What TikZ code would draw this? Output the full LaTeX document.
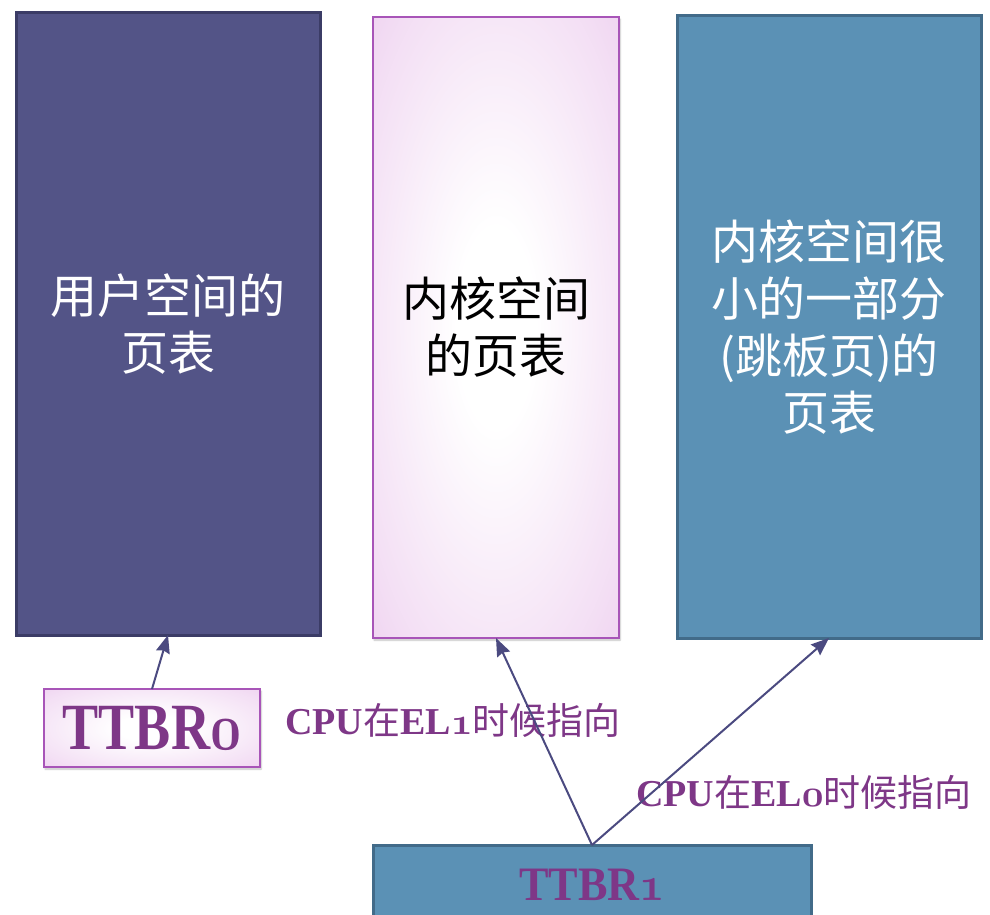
\documentclass[tikz,border=0pt]{standalone}
\usepackage{fontspec}
\setmainfont{Liberation Serif}
\newfontfamily\cjk{Noto Sans CJK SC}
\usetikzlibrary{arrows.meta,shadows.blur}
\DeclareFontFamily{OML}{osnum}{\skewchar\font'177}
\DeclareFontShape{OML}{osnum}{b}{it}{<->cmmib10}{}
\newcommand\osn[1]{{\usefont{OML}{osnum}{b}{it}#1}}
\definecolor{navyfill}{HTML}{535487}
\definecolor{navyline}{HTML}{3B3C66}
\definecolor{bluefill}{HTML}{5B91B5}
\definecolor{blueline}{HTML}{426B89}
\definecolor{pinkedge}{HTML}{E8C0EA}
\definecolor{pinkline}{HTML}{A855B8}
\definecolor{purptext}{HTML}{7E3787}
\definecolor{arrowcol}{HTML}{4B4A80}
\pgfdeclareradialshading{pinkglow}{\pgfpoint{0bp}{0bp}}{%
  color(0bp)=(white); color(8bp)=(white); color(30bp)=(pinkedge!50!white);
  color(48bp)=(pinkedge); color(72bp)=(pinkedge)}
\tikzset{
  box/.style={rectangle, inner sep=0pt, outer sep=0pt, align=center},
  navybox/.style={box, fill=navyfill, draw=navyline, line width=3pt, text=white},
  bluebox/.style={box, fill=bluefill, draw=blueline, line width=3pt},
  pinkbox/.style={box, shading=pinkglow, draw=pinkline, line width=1.3pt,
    blur shadow={shadow xshift=1pt, shadow yshift=-2pt, shadow blur steps=6, shadow opacity=25}},
  bigcjk/.style={font=\cjk\fontsize{47}{57}\selectfont},
  arr/.style={draw=arrowcol, line width=2pt, -{Stealth[length=18pt,width=14pt,inset=2pt]}},
  lbl/.style={anchor=west, inner sep=0pt, text=purptext, font=\bfseries\fontsize{38}{44}\selectfont}
}
\begin{document}
\begin{tikzpicture}[x=1pt,y=-1pt]
\useasboundingbox (0,0) rectangle (990,915);
\node[navybox, bigcjk, minimum width=304pt, minimum height=622pt] (box1) at (168,324) {用户空间的\\页表};
\node[pinkbox, bigcjk, text=black, minimum width=246pt, minimum height=621pt] (box2) at (496,327.5) {内核空间\\的页表};
\node[bluebox, bigcjk, text=white, minimum width=304pt, minimum height=622pt] (box3) at (829,327) {内核空间很\\小的一部分\\(跳板页)的\\页表};
\node[pinkbox, minimum width=216pt, minimum height=78pt, text=purptext,
  font=\bfseries\fontsize{66}{70}\selectfont] (ttbr0) at (152,728) {\scalebox{0.82}[1]{TTBR\osn{0}}};
\node[bluebox, minimum width=438pt, minimum height=80pt, text=purptext,
  font=\bfseries\fontsize{48}{52}\selectfont] (ttbr1) at (592,885) {\scalebox{0.92}[1]{TTBR\osn{1}}};
\node[lbl] (l1) at (285,720) {CPU{\cjk\mdseries\fontsize{37}{44}\selectfont 在}EL\osn{1}{\cjk\mdseries\fontsize{37}{44}\selectfont 时候指向}};
\node[lbl] (l0) at (636,792) {CPU{\cjk\mdseries\fontsize{37}{44}\selectfont 在}EL\osn{0}{\cjk\mdseries\fontsize{37}{44}\selectfont 时候指向}};
\draw[arr] (ttbr0.north) -- (box1.south);
\draw[arr] (ttbr1.north) -- (box2.south);
\draw[arr] (ttbr1.north) -- (box3.south);
\end{tikzpicture}
\end{document}
